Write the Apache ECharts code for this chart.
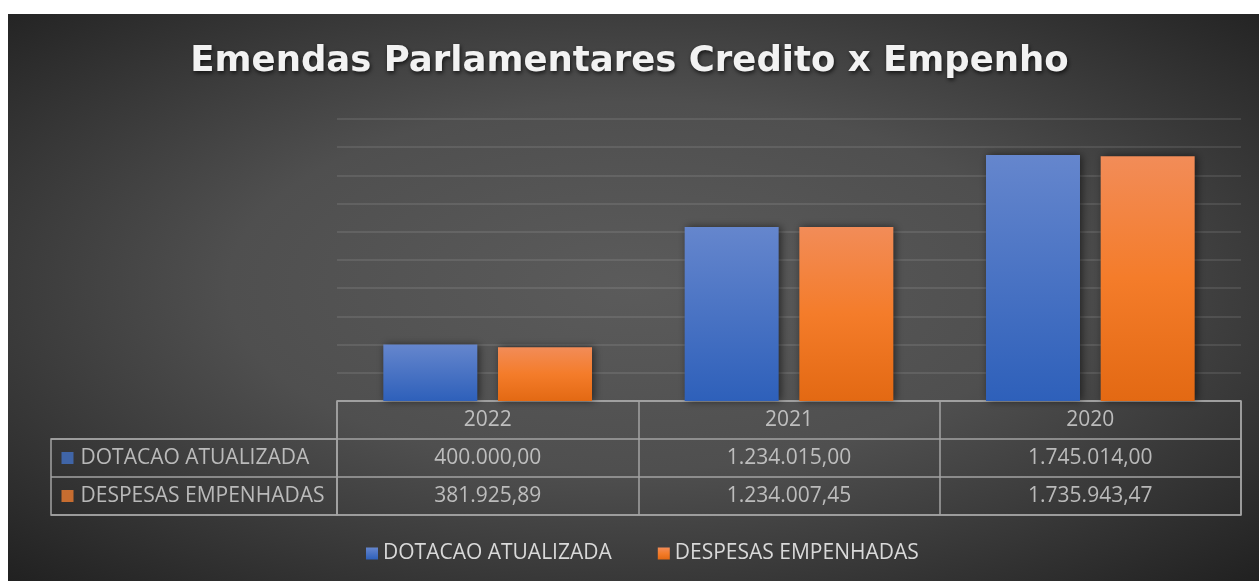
<!DOCTYPE html>
<html>
<head>
<meta charset="utf-8">
<script src="https://cdn.jsdelivr.net/npm/echarts@6/dist/echarts.min.js"></script>
<style>
    html, body { margin: 0; padding: 0; background: #fff; }
    #grafico { width: 1259px; height: 581px; }
</style>
</head>
<body>
<div id="grafico"></div>
<script>
    // dados do grafico
    var anos = ['2022', '2021', '2020'];
    var nomes = ['DOTACAO ATUALIZADA', 'DESPESAS EMPENHADAS'];
    var dotacao = [400000.00, 1234015.00, 1745014.00];
    var despesas = [381925.89, 1234007.45, 1735943.47];
    var cores = ['#4472c4', '#ed7d31'];

    //formata numero no padrao brasileiro 1.234.015,00
    function fmt(v) {
        var partes = v.toFixed(2).split('.');
        var inteiro = partes[0].replace(/\B(?=(\d{3})+(?!\d))/g, '.');
        return inteiro + ',' + partes[1];
    }

    var corTexto = '#d9d9d9';
    var corBorda = '#a3a3a3';
    var fonte = '"Open Sans", sans-serif';

    //celulas da tabela
    var celulas = [];
    for (var i = 0; i < anos.length; i++) {
        celulas.push([i, 0, anos[i]]);
        celulas.push([i, 1, fmt(dotacao[i])]);
        celulas.push([i, 2, fmt(despesas[i])]);
    }

    var rotulos = [];
    for (var j = 0; j < nomes.length; j++) {
        rotulos.push([0, j, nomes[j], j]);
    }

    var gradAzul = new echarts.graphic.LinearGradient(0, 0, 0, 1, [
        {offset: 0, color: '#6586cd'},
        {offset: 1, color: '#2e60ba'}
    ]);
    var gradLaranja = new echarts.graphic.LinearGradient(0, 0, 0, 1, [
        {offset: 0, color: '#f28c58'},
        {offset: 0.5, color: '#f47c2a'},
        {offset: 1, color: '#e36913'}
    ]);

    var chart = echarts.init(document.getElementById('grafico'));
    var option = {
        animation: false,
        graphic: [
            {
                type: 'rect',
                z: -100,
                x: 8,
                y: 14,
                scaleY: 567 / 1251,
                shape: {x: 0, y: 0, width: 1251, height: 1251},
                style: {
                    fill: {
                        type: 'radial', x: 0.5, y: 0.48, r: 0.72,
                        colorStops: [
                            {offset: 0, color: '#5b5b5b'},
                            {offset: 0.45, color: '#4f4f4f'},
                            {offset: 1, color: '#212121'}
                        ]
                    }
                },
                silent: true
            }
        ],
        title: {
            text: 'Emendas Parlamentares Credito x Empenho',
            left: 'center',
            top: 39,
            textStyle: {
                color: '#f2f2f2',
                fontFamily: '"DejaVu Sans", sans-serif',
                fontWeight: 'bold',
                fontSize: 35.5,
                textShadowColor: 'rgba(0,0,0,0.7)',
                textShadowBlur: 4,
                textShadowOffsetX: 1,
                textShadowOffsetY: 2
            }
        },
        legend: {
            data: nomes,
            top: 538,
            left: 361,
            icon: 'rect',
            itemWidth: 12,
            itemHeight: 12,
            itemGap: 46,
            textStyle: {color: corTexto, fontFamily: fonte, fontSize: 21}
        },
        grid: [
            {left: 337, top: 119, width: 904, height: 282},
            {left: 337, top: 401, width: 904, height: 114, show: true, borderColor: corBorda, borderWidth: 1.5, backgroundColor: 'transparent'},
            {left: 51, top: 439, width: 286, height: 76, show: true, borderColor: corBorda, borderWidth: 1.5, backgroundColor: 'transparent'}
        ],
        xAxis: [
            {
                gridIndex: 0, type: 'category', data: anos,
                axisLine: {show: false}, axisTick: {show: false}, axisLabel: {show: false}
            },
            {
                gridIndex: 1, type: 'category', data: anos,
                axisLine: {show: false}, axisTick: {show: false}, axisLabel: {show: false},
                splitLine: {show: true, lineStyle: {color: corBorda, width: 1.5}}
            },
            {
                gridIndex: 2, type: 'value', min: 0, max: 1, show: false
            }
        ],
        yAxis: [
            {
                gridIndex: 0, type: 'value', min: 0, max: 2000000, interval: 200000,
                axisLine: {show: false}, axisTick: {show: false}, axisLabel: {show: false},
                splitLine: {lineStyle: {color: 'rgba(255,255,255,0.13)', width: 1.5}}
            },
            {
                gridIndex: 1, type: 'category', data: ['', nomes[0], nomes[1]], inverse: true,
                axisLine: {show: false}, axisTick: {show: false}, axisLabel: {show: false},
                splitLine: {show: true, lineStyle: {color: corBorda, width: 1.5}}
            },
            {
                gridIndex: 2, type: 'category', data: nomes, inverse: true,
                axisLine: {show: false}, axisTick: {show: false}, axisLabel: {show: false},
                splitLine: {show: true, lineStyle: {color: corBorda, width: 1.5}}
            }
        ],
        series: [
            {
                name: nomes[0],
                type: 'bar',
                xAxisIndex: 0, yAxisIndex: 0,
                data: dotacao,
                barWidth: 94,
                barGap: '22%',
                itemStyle: {
                    color: gradAzul,
                    shadowColor: 'rgba(0,0,0,0.55)',
                    shadowBlur: 8,
                    shadowOffsetX: 2
                }
            },
            {
                name: nomes[1],
                type: 'bar',
                xAxisIndex: 0, yAxisIndex: 0,
                data: despesas,
                barWidth: 94,
                barGap: '22%',
                itemStyle: {
                    color: gradLaranja,
                    shadowColor: 'rgba(0,0,0,0.55)',
                    shadowBlur: 8,
                    shadowOffsetX: 2
                }
            },
            {
                name: 'tabela',
                type: 'scatter',
                xAxisIndex: 1, yAxisIndex: 1,
                data: celulas,
                symbol: 'rect',
                symbolSize: 1,
                itemStyle: {color: 'transparent'},
                silent: true,
                label: {
                    show: true,
                    position: 'inside',
                    color: corTexto,
                    fontFamily: fonte,
                    fontSize: 21,
                    formatter: function (p) { return p.value[2]; }
                }
            },
            {
                name: 'rotulos',
                type: 'scatter',
                xAxisIndex: 2, yAxisIndex: 2,
                data: rotulos,
                symbol: 'rect',
                symbolSize: 1,
                itemStyle: {color: 'transparent'},
                silent: true,
                label: {
                    show: true,
                    position: 'right',
                    distance: 10,
                    color: corTexto,
                    fontFamily: fonte,
                    fontSize: 21,
                    formatter: function (p) {
                        return '{q' + p.value[3] + '|}{t|' + p.value[2] + '}';
                    },
                    rich: {
                        q0: {width: 12, height: 12, backgroundColor: cores[0]},
                        q1: {width: 12, height: 12, backgroundColor: cores[1]},
                        t: {color: corTexto, fontFamily: fonte, fontSize: 21, padding: [0, 0, 0, 7]}
                    }
                }
            }
        ]
    };
    chart.setOption(option, true);
</script>
</body>
</html>
